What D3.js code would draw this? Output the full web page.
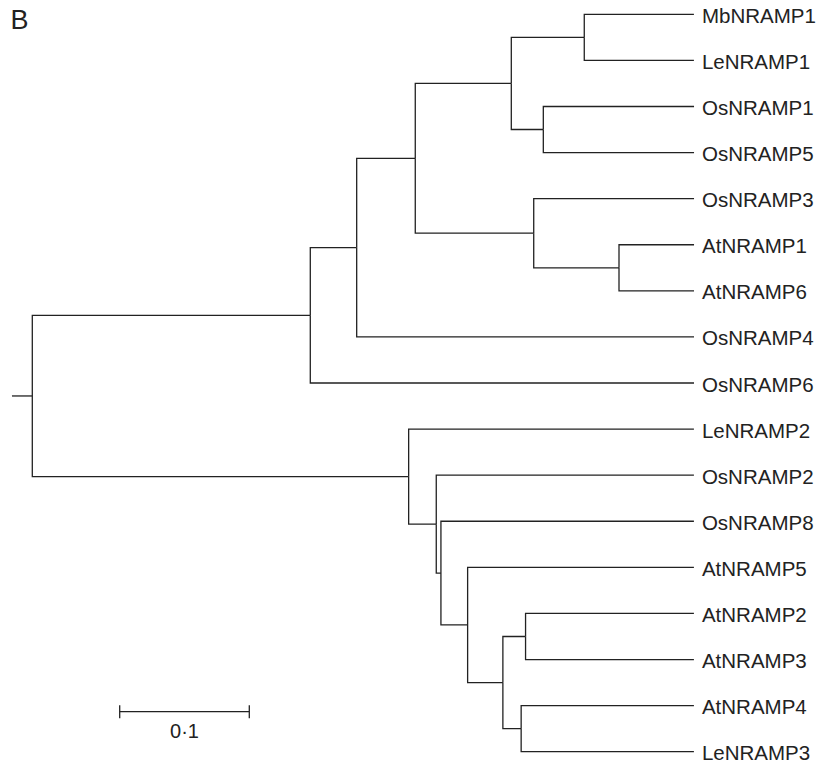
<!DOCTYPE html>
<html>
<head>
<meta charset="utf-8">
<script src="https://cdn.jsdelivr.net/npm/d3@7/dist/d3.min.js"></script>
<style>
  body { margin: 0; background: #fff; }
  text { font-family: "Liberation Sans", Arial, sans-serif; fill: #222; }
</style>
</head>
<body>
<script>
// leaf order top to bottom
var leafNames = ["MbNRAMP1", "LeNRAMP1", "OsNRAMP1", "OsNRAMP5", "OsNRAMP3", "AtNRAMP1", "AtNRAMP6",
                 "OsNRAMP4", "OsNRAMP6", "LeNRAMP2", "OsNRAMP2", "OsNRAMP8", "AtNRAMP5", "AtNRAMP2",
                 "AtNRAMP3", "AtNRAMP4", "LeNRAMP3"];

// branch lengths (substitutions per site)
var rootStem = 0.0157;
var upperClade = [0.2145, 0.0358, 0.0452, 0.0741, 0.0563, 0.0846, 0.0247, 0.1163, 0.0914, 0.1237, 0.0658, 0.0579, 0.2603, 0.2961];
var lowerClade = [0.2904, 0.2201, 0.0213, 0.1988, 0.0036, 0.1952, 0.0206, 0.1746, 0.0272, 0.0175, 0.1299, 0.0141, 0.1333];

var scaleBarValue = 0.1;
var scaleBarLabel = "0·1";
var panelLabel = "B";

function leaf(name, len) { return {name: name, len: len}; }
function node(len, kids) { return {len: len, children: kids}; }

var u = upperClade, l = lowerClade;
var treeData = node(0, [
  node(u[0], [
    node(u[1], [
      node(u[2], [
        node(u[3], [
          node(u[4], [leaf("MbNRAMP1", u[5]), leaf("LeNRAMP1", u[5])]),
          node(u[6], [leaf("OsNRAMP1", u[7]), leaf("OsNRAMP5", u[7])])
        ]),
        node(u[8], [
          leaf("OsNRAMP3", u[9]),
          node(u[10], [leaf("AtNRAMP1", u[11]), leaf("AtNRAMP6", u[11])])
        ])
      ]),
      leaf("OsNRAMP4", u[12])
    ]),
    leaf("OsNRAMP6", u[13])
  ]),
  node(l[0], [
    leaf("LeNRAMP2", l[1]),
    node(l[2], [
      leaf("OsNRAMP2", l[3]),
      node(l[4], [
        leaf("OsNRAMP8", l[5]),
        node(l[6], [
          leaf("AtNRAMP5", l[7]),
          node(l[8], [
            node(l[9], [leaf("AtNRAMP2", l[10]), leaf("AtNRAMP3", l[10])]),
            node(l[11], [leaf("AtNRAMP4", l[12]), leaf("LeNRAMP3", l[12])])
          ])
        ])
      ])
    ])
  ])
]);

var width = 819, height = 763;
var svg = d3.select("body").append("svg")
    .attr("width", width)
    .attr("height", height);

var xScale = d3.scaleLinear()
    .domain([0, 1])
    .range([32.3, 32.3 + 1296]);

var yScale = d3.scalePoint()
    .domain(leafNames)
    .range([14.3, 751.7]);

var root = d3.hierarchy(treeData);
root.eachBefore(function(d) {
  d.dist = d.parent ? d.parent.dist + d.data.len : 0;
});
root.eachAfter(function(d) {
  if (d.children) d.py = d3.mean([d.children[0].py, d.children[d.children.length - 1].py]);
  else d.py = yScale(d.data.name);
});

var g = svg.append("g")
    .attr("fill", "none")
    .attr("stroke", "#222")
    .attr("stroke-width", 1.3);

// elbow links
g.selectAll("path.link")
  .data(root.links())
  .join("path")
    .attr("class", "link")
    .attr("d", function(d) {
      return "M" + xScale(d.source.dist) + "," + d.source.py +
             "V" + d.target.py + "H" + xScale(d.target.dist);
    });

// root stem
g.append("line")
    .attr("x1", xScale(-rootStem)).attr("x2", xScale(0))
    .attr("y1", root.py).attr("y2", root.py);

// leaf labels
svg.selectAll("text.leaf")
  .data(root.leaves())
  .join("text")
    .attr("class", "leaf")
    .attr("x", function(d) { return xScale(d.dist) + 8; })
    .attr("y", function(d) { return d.py + 8.5; })
    .style("font-size", "20.5px")
    .text(function(d) { return d.data.name; });

// scale bar
var sbX = 119.7, sbY = 711.7;
var sbLen = xScale(scaleBarValue) - xScale(0);
var sb = svg.append("g")
    .attr("stroke", "#222")
    .attr("stroke-width", 1.3);
sb.append("line").attr("x1", sbX).attr("x2", sbX + sbLen).attr("y1", sbY).attr("y2", sbY);
sb.append("line").attr("x1", sbX).attr("x2", sbX).attr("y1", sbY - 6.5).attr("y2", sbY + 6.5);
sb.append("line").attr("x1", sbX + sbLen).attr("x2", sbX + sbLen).attr("y1", sbY - 6.5).attr("y2", sbY + 6.5);
svg.append("text")
    .attr("x", sbX + sbLen / 2)
    .attr("y", 738.3)
    .attr("text-anchor", "middle")
    .style("font-size", "20px")
    .text(scaleBarLabel);

// panel label
svg.append("text")
    .attr("x", 10.5)
    .attr("y", 29.3)
    .style("font-size", "27px")
    .text(panelLabel);
</script>
</body>
</html>
